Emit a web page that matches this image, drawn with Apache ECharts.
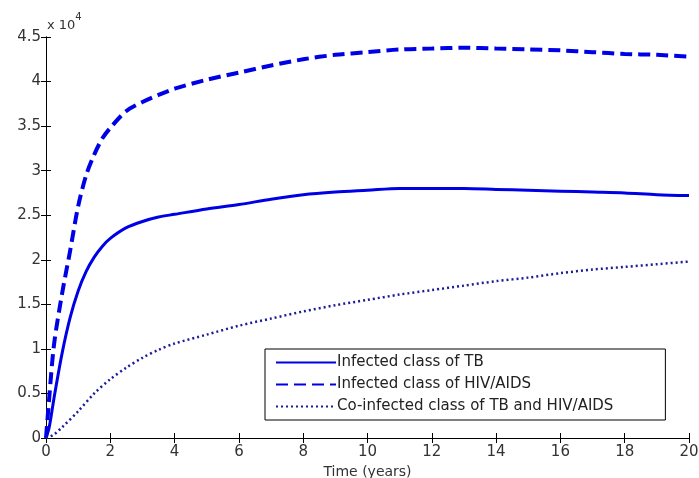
<!DOCTYPE html>
<html><head><meta charset="utf-8">
<script src="https://cdn.jsdelivr.net/npm/echarts@6/dist/echarts.min.js"></script>
<style>html,body{margin:0;padding:0;background:#fff}#c{width:699px;height:478px}</style>
</head><body><div id="c"></div>
<script>
// values in units of 10^4
const tTB  = [0,0.1,0.25,0.5,0.75,1,1.25,1.5,1.75,2,2.5,3,3.5,4,5,6,7,8,9,10,11,12,13,14,15,16,17,18,19,20];
const yTB  = [0,0.12,0.45,0.95,1.35,1.65,1.87,2.03,2.15,2.24,2.36,2.43,2.48,2.51,2.57,2.62,2.68,2.73,2.76,2.78,2.8,2.8,2.8,2.79,2.78,2.77,2.76,2.75,2.73,2.72];
const tHIV = [0,0.1,0.25,0.5,0.75,1,1.25,1.5,1.75,2,2.5,3,3.5,4,5,6,7,8,9,10,11,12,13,14,15,16,17,18,19,20];
const yHIV = [0,0.45,1.05,1.62,2.1,2.6,2.95,3.18,3.36,3.48,3.67,3.77,3.85,3.92,4.02,4.1,4.18,4.25,4.3,4.33,4.36,4.37,4.38,4.37,4.36,4.35,4.33,4.31,4.3,4.28];
const tCO  = [0,0.25,0.5,1,1.5,2,2.5,3,3.5,4,5,6,7,8,9,10,11,12,13,14,15,16,17,18,19,20];
const yCO  = [0,0.04,0.12,0.3,0.5,0.66,0.79,0.9,0.99,1.06,1.16,1.26,1.34,1.42,1.49,1.55,1.61,1.66,1.71,1.76,1.8,1.85,1.89,1.92,1.95,1.98];
const names = ['Infected class of TB','Infected class of HIV/AIDS','Co-infected class of TB and HIV/AIDS'];
const xTicks = [0,2,4,6,8,10,12,14,16,18,20];
const yTicks = [0,0.5,1,1.5,2,2.5,3,3.5,4,4.5];

const pair = (t,y)=>t.map((v,i)=>[v,y[i]]);
const fontF = 'DejaVu Sans, sans-serif';
const lblC = '#333';
const axBase = {
  type:'value', min:0, axisLine:{show:true,lineStyle:{color:'#000',width:1}},
  axisTick:{show:true,inside:true,length:5,lineStyle:{color:'#000'}},
  splitLine:{show:false}
};
const chart = echarts.init(document.getElementById('c'));
chart.setOption({
  animation:false,
  backgroundColor:'#fff',
  grid:{left:46,right:10,top:37,bottom:40,containLabel:false,outerBoundsMode:'none'},
  xAxis:[
    Object.assign({},axBase,{max:20,interval:2,position:'bottom',
      name:'Time (years)',nameLocation:'middle',nameGap:23,
      nameTextStyle:{color:lblC,fontSize:14,fontFamily:fontF},
      axisLabel:{color:lblC,fontSize:15,fontFamily:fontF,margin:7,formatter:v=>xTicks.includes(v)?String(v):''}}),
    Object.assign({},axBase,{max:20,interval:2,position:'top',axisLabel:{show:false}})
  ],
  yAxis:[
    Object.assign({},axBase,{max:4.5,interval:0.5,position:'left',
      axisLabel:{color:lblC,fontSize:15,fontFamily:fontF,margin:5,formatter:v=>yTicks.includes(v)?String(v):''}}),
    Object.assign({},axBase,{max:4.5,interval:0.5,position:'right',axisLabel:{show:false}})
  ],
  graphic:[{type:'text',left:47,top:12,style:{
    text:'{a|x 10}{s|4}',rich:{a:{fontSize:13,fontFamily:fontF,fill:lblC,padding:[7,0,0,0]},s:{fontSize:10,fontFamily:fontF,fill:lblC,verticalAlign:'top'}}
  }}],
  legend:{
    orient:'vertical',left:265,top:349,
    borderColor:'#000',borderWidth:1,backgroundColor:'#fff',
    padding:[6,52,6,10],itemGap:7,itemWidth:60,itemHeight:15,
    itemStyle:{opacity:0},
    textStyle:{color:'#222',fontSize:15,fontFamily:fontF,padding:[0,0,0,-4]},
    data:names
  },
  series:[
    {name:names[0],type:'line',data:pair(tTB,yTB),smooth:0.3,showSymbol:false,symbol:'none',
     lineStyle:{color:'#0000e6',width:3,type:'solid'},itemStyle:{color:'#0000e6'},z:3},
    {name:names[1],type:'line',data:pair(tHIV,yHIV),smooth:0.3,showSymbol:false,symbol:'none',
     lineStyle:{color:'#0000e6',width:4,type:[12,6]},itemStyle:{color:'#0000e6'},z:3},
    {name:names[2],type:'line',data:pair(tCO,yCO),smooth:0.3,showSymbol:false,symbol:'none',
     lineStyle:{color:'#1c1c9a',width:2.5,type:[2,3]},itemStyle:{color:'#1c1c9a'},z:3}
  ]
});
</script></body></html>
